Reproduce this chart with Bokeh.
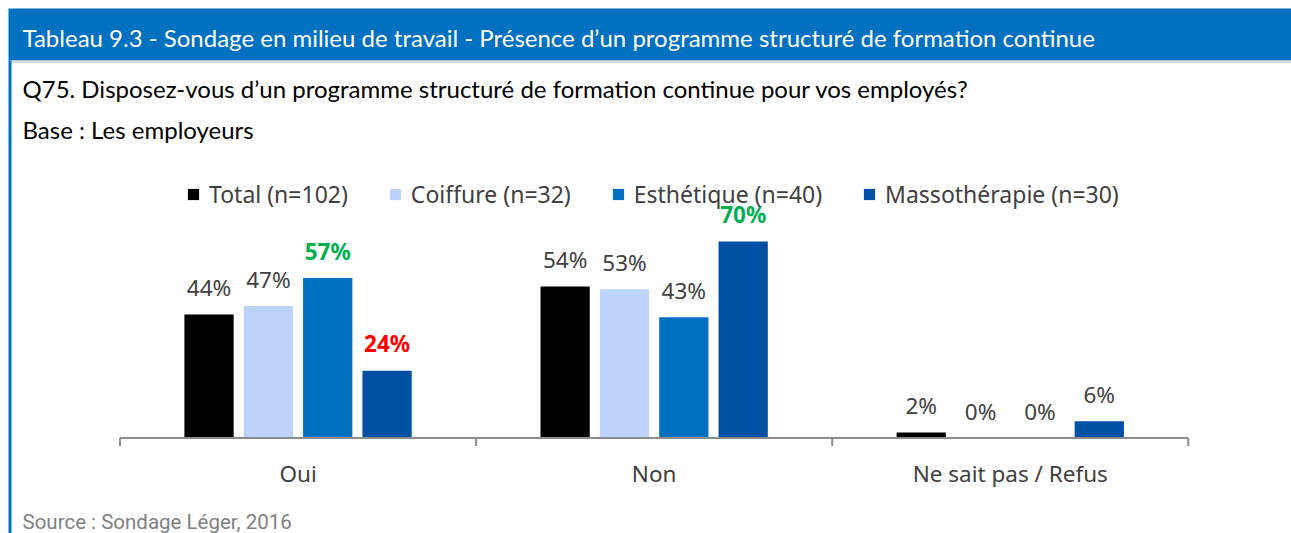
from bokeh.plotting import figure
from bokeh.models import Range1d, Label, Legend, LegendItem, ColumnDataSource
from bokeh.core.properties import value
from bokeh.embed import file_html
from bokeh.resources import INLINE

# ---- data ----
title = "Tableau 9.3 - Sondage en milieu de travail - Présence d’un programme structuré de formation continue"
question = "Q75. Disposez-vous d’un programme structuré de formation continue pour vos employés?"
base = "Base : Les employeurs"
source = "Source : Sondage Léger, 2016"
categories = ["Oui", "Non", "Ne sait pas / Refus"]
series = ["Total (n=102)", "Coiffure (n=32)", "Esthétique (n=40)", "Massothérapie (n=30)"]
total = [44, 54, 2]
coiffure = [47, 53, 0]
esthetique = [57, 43, 0]
massotherapie = [24, 70, 6]
values = [total, coiffure, esthetique, massotherapie]

# ---- styles ----
bar_colors = ["#000000", "#BDD3FB", "#0070C0", "#0050A4"]
# label highlights: (category index, series index) -> colour
highlights = {(0, 2): "#00B050", (1, 3): "#00B050", (0, 3): "#FF0000"}
BLUE = "#0070C0"
TXT = "#404040"
FONT_T = "Lato"
FONT_L = "Noto Sans"

W, H = 1291, 533
UX = 59.35      # px per slot
UY = 2.807      # px per percent
AX0 = 119.5     # px of axis start from left
BASE = 437.5    # px of baseline from top
X0 = -AX0 / UX
X1 = X0 + W / UX
Y1 = BASE / UY
Y0 = Y1 - H / UY


def fx(px):
    return X0 + px / UX


def fy(py):
    return Y1 - py / UY


GROUP = len(series) + 2

p = figure(width=W, height=H, x_range=Range1d(X0, X1), y_range=Range1d(Y0, Y1),
           output_backend="svg", toolbar_location=None, min_border=0,
           x_axis_location=None, y_axis_location=None)
p.grid.visible = False
p.outline_line_color = None
p.background_fill_color = "white"
p.border_fill_color = "white"

# header bar, grey rule, left border
p.quad(left=[fx(8)], right=[X1], top=[fy(8)], bottom=[fy(60)], fill_color=BLUE, line_color=None)
p.quad(left=[fx(11)], right=[X1], top=[fy(60)], bottom=[fy(62.5)], fill_color="#D9D9D9", line_color=None)
p.quad(left=[fx(8)], right=[fx(11)], top=[fy(60)], bottom=[Y0], fill_color=BLUE, line_color=None)

p.add_layout(Label(x=fx(22), y=fy(37), text=title, text_baseline="middle",
                   text_font=FONT_T, text_font_size="24px", text_color="white"))
p.add_layout(Label(x=fx(22), y=fy(88), text=question, text_baseline="middle",
                   text_font=FONT_T, text_font_size="24px", text_color="black"))
p.add_layout(Label(x=fx(22), y=fy(128.5), text=base, text_baseline="middle",
                   text_font=FONT_T, text_font_size="24px", text_color="black"))
p.add_layout(Label(x=fx(22), y=fy(521), text=source, text_baseline="middle",
                   text_font="Roboto", text_font_size="20.5px", text_color="#7F7F7F"))

# bars
items = []
for si, (name, vals) in enumerate(zip(series, values)):
    xs = [gi * GROUP + 1.5 + si for gi in range(len(categories))]
    src = ColumnDataSource(dict(
        x=xs, top=vals,
        label=[f"{v}%" for v in vals],
        color=[highlights.get((gi, si), TXT) for gi in range(len(categories))],
        style=["bold" if (gi, si) in highlights else "normal" for gi in range(len(categories))],
    ))
    r = p.vbar(x="x", top="top", bottom=0, width=0.83, source=src,
               fill_color=bar_colors[si], line_color=None)
    p.text(x="x", y="top", text="label", source=src, y_offset=-27,
           text_align="center", text_baseline="middle", text_color="color",
           text_font_style="style", text_font=value(FONT_L), text_font_size="22.5px")
    items.append(LegendItem(label=name, renderers=[r]))

# axis line, ticks, category labels
n = len(categories)
p.segment(x0=[0], x1=[n * GROUP], y0=[0], y1=[0], line_color="#8C8C8C", line_width=2)
bounds = [gi * GROUP for gi in range(n + 1)]
p.segment(x0=bounds, x1=bounds, y0=[0] * len(bounds), y1=[-8 / UY] * len(bounds),
          line_color="#8C8C8C", line_width=2)
p.text(x=[gi * GROUP + GROUP / 2 for gi in range(n)], y=[0] * n, text=categories,
       y_offset=35, text_align="center", text_baseline="middle", text_color=TXT,
       text_font=value(FONT_L), text_font_size="22.5px")

legend = Legend(items=items, orientation="horizontal", location=(186, 323),
                glyph_width=14, glyph_height=14, label_standoff=9, spacing=40,
                padding=0, margin=0, border_line_color=None, background_fill_alpha=0,
                label_text_font=FONT_L, label_text_font_size="23px", label_text_color=TXT)
p.add_layout(legend)

open("out.html", "w").write(file_html(p, INLINE))
